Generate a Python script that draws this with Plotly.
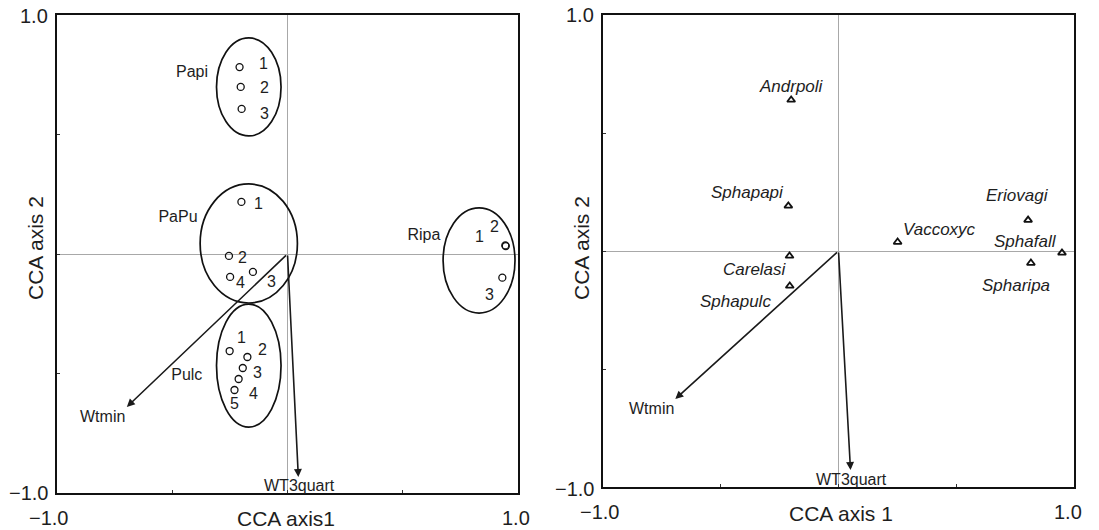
import plotly.graph_objects as go

# ---------------- data ----------------
# Left panel: site scores (CCA axis 1, CCA axis 2)
papi_x = [-0.208, -0.203, -0.199]
papi_y = [0.782, 0.699, 0.607]
papi_lab = ["1", "2", "3"]

papu_x = [-0.200, -0.254, -0.150, -0.249]
papu_y = [0.218, -0.008, -0.075, -0.096]
papu_lab = ["1", "2", "3", "4"]

ripa_x = [0.947, 0.945, 0.932]
ripa_y = [0.033, 0.036, -0.099]
ripa_lab = ["1", "2", "3"]

pulc_x = [-0.251, -0.174, -0.194, -0.212, -0.230]
pulc_y = [-0.406, -0.431, -0.477, -0.523, -0.569]
pulc_lab = ["1", "2", "3", "4", "5"]

# group names and label locations (data units)
groups = ["Papi", "PaPu", "Ripa", "Pulc"]
group_lab_x = [-0.414, -0.475, 0.592, -0.437]
group_lab_y = [0.757, 0.151, 0.075, -0.510]

# group ellipses: centre and semi-axes (data units)
ell_cx = [-0.168, -0.168, 0.831, -0.168]
ell_cy = [0.699, 0.044, -0.027, -0.467]
ell_rx = [0.140, 0.211, 0.156, 0.140]
ell_ry = [0.205, 0.249, 0.220, 0.257]

# Environmental vectors
env_names = ["Wtmin", "WT3quart"]
env_left_x = [-0.697, 0.047]
env_left_y = [-0.640, -0.933]
env_right_x = [-0.693, 0.051]
env_right_y = [-0.627, -0.928]

# Right panel: species scores
species = ["Andrpoli", "Sphapapi", "Carelasi", "Sphapulc",
           "Vaccoxyc", "Eriovagi", "Sphafall", "Spharipa"]
sp_x = [-0.201, -0.213, -0.208, -0.207, 0.251, 0.805, 0.949, 0.817]
sp_y = [0.640, 0.191, -0.021, -0.148, 0.038, 0.131, -0.008, -0.051]

x_title_left = "CCA axis1"
x_title_right = "CCA axis 1"
y_title = "CCA axis 2"
tick_vals = [-1.0, -0.5, 0.0, 0.5, 1.0]
edge_labels = ["\u22121.0", "1.0"]

# ---------------- styles ----------------
FONT = "Liberation Sans, Arial, sans-serif"
TXT = "#1e1e1e"
LAB_SIZE = 16
SP_SIZE = 17
TICK_SIZE = 20
TITLE_SIZE = 21

# label offsets from their point (pixels: right, down)
papi_off = [(24, -4), (24, 1), (23, 5)]
papu_off = [(17, 2), (14, 2), (19, 10), (10, 6)]
ripa_off = [(-26, -10), (-11, -19), (-13, 17)]
pulc_off = [(12, -14), (15, -8), (15, 4), (15, 14), (0, 14)]
sp_off = [(0, -13), (-41, -13), (-35, 14), (-54, 16),
          (42, -13), (-11, -25), (-36, -11), (-15, 22)]
env_off = [(-24, 10), (1, 9)]

fig = go.Figure()

def add_sites(xs, ys, labs, offs):
    fig.add_trace(go.Scatter(
        x=xs, y=ys, mode="markers",
        marker=dict(symbol="circle-open", size=7, color="#111111",
                    line=dict(width=1.3, color="#111111")),
        xaxis="x", yaxis="y", hoverinfo="skip", cliponaxis=False,
        showlegend=False))
    for x, y, t, (dx, dy) in zip(xs, ys, labs, offs):
        fig.add_annotation(x=x, y=y, xref="x", yref="y", text=t,
                           showarrow=False, xshift=dx, yshift=-dy,
                           font=dict(family=FONT, size=LAB_SIZE, color=TXT))

add_sites(papi_x, papi_y, papi_lab, papi_off)
add_sites(papu_x, papu_y, papu_lab, papu_off)
add_sites(ripa_x, ripa_y, ripa_lab, ripa_off)
add_sites(pulc_x, pulc_y, pulc_lab, pulc_off)

# group labels
fig.add_trace(go.Scatter(
    x=group_lab_x, y=group_lab_y, mode="text", text=groups,
    textfont=dict(family=FONT, size=LAB_SIZE, color=TXT),
    xaxis="x", yaxis="y", hoverinfo="skip", showlegend=False))

# species
fig.add_trace(go.Scatter(
    x=sp_x, y=sp_y, mode="markers",
    marker=dict(symbol="triangle-up-open", size=7, color="#111111",
                line=dict(width=1.8, color="#111111")),
    xaxis="x2", yaxis="y2", hoverinfo="skip", cliponaxis=False,
    showlegend=False))
for x, y, t, (dx, dy) in zip(sp_x, sp_y, species, sp_off):
    fig.add_annotation(x=x, y=y, xref="x2", yref="y2", text=t,
                       showarrow=False, xshift=dx, yshift=-dy,
                       font=dict(family=FONT, size=SP_SIZE, color=TXT,
                                 style="italic"))

# ellipses
for cx, cy, rx, ry in zip(ell_cx, ell_cy, ell_rx, ell_ry):
    fig.add_shape(type="circle", xref="x", yref="y",
                  x0=cx - rx, x1=cx + rx, y0=cy - ry, y1=cy + ry,
                  line=dict(color="#111111", width=1.7))

# arrows + labels
def add_arrows(xs, ys, xr, yr):
    for name, ex, ey, (dx, dy) in zip(env_names, xs, ys, env_off):
        fig.add_annotation(x=ex, y=ey, ax=0, ay=0, xref=xr, yref=yr,
                           axref=xr, ayref=yr, showarrow=True, text="",
                           arrowhead=2, arrowsize=1.0, arrowwidth=1.6,
                           arrowcolor="#1a1a1a")
        fig.add_annotation(x=ex, y=ey, xref=xr, yref=yr, text=name,
                           showarrow=False, xshift=dx, yshift=-dy,
                           font=dict(family=FONT, size=LAB_SIZE, color=TXT))

add_arrows(env_left_x, env_left_y, "x", "y")
add_arrows(env_right_x, env_right_y, "x2", "y2")

axis_common = dict(
    range=[-1, 1], tickvals=tick_vals, showticklabels=False,
    ticks="inside", ticklen=3, tickwidth=1, tickcolor="#333333",
    showgrid=False, zeroline=True, zerolinecolor="#a8a8a8", zerolinewidth=1,
    showline=True, linecolor="#111111", linewidth=2, mirror=True,
    automargin=False, fixedrange=True,
)

fig.update_layout(
    width=1099, height=530,
    margin=dict(l=0, r=0, t=0, b=0),
    paper_bgcolor="white", plot_bgcolor="white",
    xaxis=dict(domain=[57 / 1099, 518 / 1099], anchor="y", **axis_common),
    yaxis=dict(domain=[1 - 493 / 530, 1 - 15 / 530], anchor="x", **axis_common),
    xaxis2=dict(domain=[603 / 1099, 1074 / 1099], anchor="y2", **axis_common),
    yaxis2=dict(domain=[1 - 487 / 530, 1 - 15 / 530], anchor="x2", **axis_common),
    showlegend=False,
)

# edge tick labels and axis titles
tfont = dict(family=FONT, size=TICK_SIZE, color=TXT)
for xr, yr, xsh, ysh_y in [("x", "y", (-9, -2), (0, -1)), ("x2", "y2", (-4, -6), (-2, 0))]:
    for v, lab, s in zip([-1, 1], edge_labels, xsh):
        fig.add_annotation(x=v, y=0, xref=xr, yref=yr + " domain", text=lab,
                           showarrow=False, yanchor="middle", xshift=s, yshift=-25,
                           font=tfont)
    for v, lab, s in zip([-1, 1], edge_labels, ysh_y):
        fig.add_annotation(x=0, y=v, xref=xr + " domain", yref=yr, text=lab,
                           showarrow=False, xanchor="right", xshift=-7, yshift=s,
                           font=tfont)

fig.add_annotation(x=0.5, y=0, xref="x domain", yref="y domain", text=x_title_left,
                   showarrow=False, yanchor="middle", xshift=-2, yshift=-25,
                   font=dict(family=FONT, size=TITLE_SIZE, color=TXT))
fig.add_annotation(x=0.5, y=0, xref="x2 domain", yref="y2 domain", text=x_title_right,
                   showarrow=False, yanchor="middle", xshift=2, yshift=-26,
                   font=dict(family=FONT, size=TITLE_SIZE, color=TXT))
fig.add_annotation(x=0, y=0.5, xref="x domain", yref="y domain", text=y_title,
                   showarrow=False, textangle=-90, xanchor="center", xshift=-22,
                   yshift=6, font=dict(family=FONT, size=TITLE_SIZE, color=TXT))
fig.add_annotation(x=0, y=0.5, xref="x2 domain", yref="y2 domain", text=y_title,
                   showarrow=False, textangle=-90, xanchor="center", xshift=-22,
                   yshift=3, font=dict(family=FONT, size=TITLE_SIZE, color=TXT))

fig.write_html("out.html", config={"displayModeBar": False},
               post_script="document.body.style.margin='0';"
                           "document.body.style.overflow='hidden';")
